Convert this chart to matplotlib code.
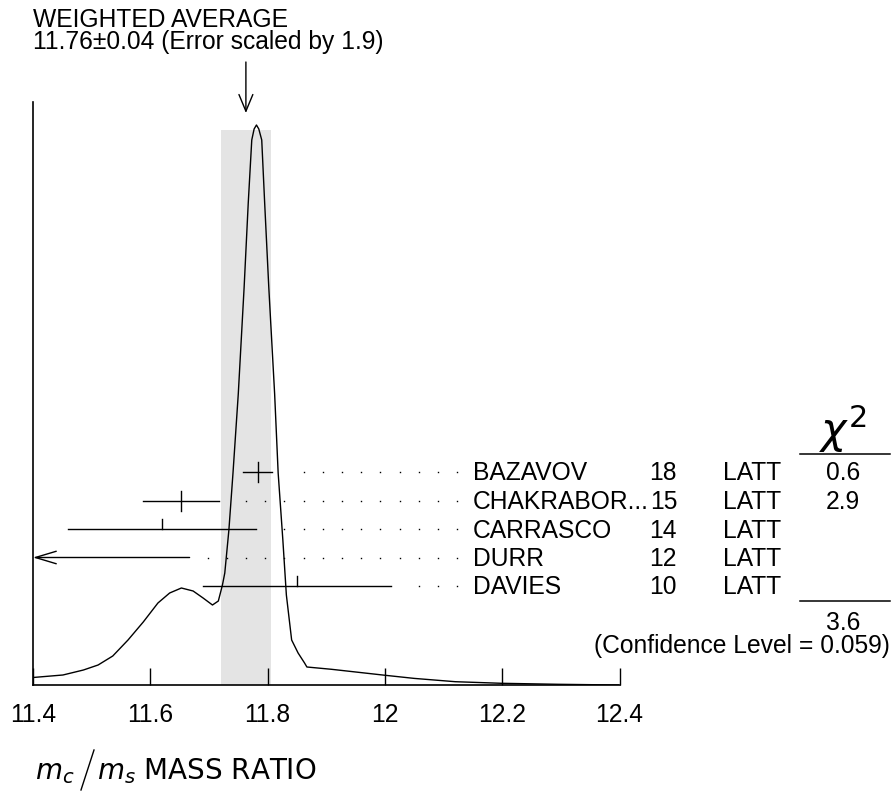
import numpy as np
import matplotlib.pyplot as plt
from matplotlib.lines import Line2D

plt.rcParams['font.family'] = ['Liberation Sans', 'DejaVu Sans']

W, H = 891, 792

# measurements
names = ['BAZAVOV', 'CHAKRABOR...', 'CARRASCO', 'DURR', 'DAVIES']
years = ['18', '15', '14', '12', '10']
techs = ['LATT', 'LATT', 'LATT', 'LATT', 'LATT']
values = [11.783, 11.652, 11.62, 11.27, 11.85]
errors = [0.025, 0.065, 0.16, 0.397, 0.16]
chi2 = ['0.6', '2.9', '', '', '']
full_cross = [True, True, False, False, False]

avg_value = 11.763
avg_error = 0.043
avg_text = ['WEIGHTED AVERAGE', '11.76\u00b10.04 (Error scaled by 1.9)']
chi2_total = '3.6'
conf_level = '(Confidence Level = 0.059)'

# ideogram curve (height in axis units)
curve_x = [11.400, 11.451, 11.486, 11.511, 11.536, 11.562, 11.588, 11.613,
           11.633, 11.653, 11.673, 11.690, 11.706, 11.716, 11.723, 11.727,
           11.734, 11.741, 11.750, 11.760, 11.767, 11.773, 11.777, 11.781,
           11.785, 11.790, 11.795, 11.802, 11.812, 11.818, 11.826, 11.832,
           11.841, 11.852, 11.863, 11.867, 11.909, 11.999, 12.050, 12.120,
           12.199, 12.296, 12.398]
curve_h = [7.5, 10, 15, 20, 29, 45, 63, 82,
           92, 97, 94, 87, 80, 84, 100, 112,
           155, 212, 291, 398, 482, 545, 556, 560,
           556, 545, 482, 398, 291, 212, 145, 90,
           45, 32, 22, 18, 15.7, 9.8, 6.6, 3.3,
           1.7, 0.7, 0.0]

ticks = [11.4, 11.6, 11.8, 12.0, 12.2, 12.4]
tick_labels = ['11.4', '11.6', '11.8', '12', '12.2', '12.4']

AX0 = 685  # pixel row of the x axis
fig = plt.figure(figsize=(W / 100, H / 100), dpi=100)
ax = fig.add_axes([33 / W, 1 - AX0 / H, 586.5 / W, (AX0 - 102) / H])
ax.set_xlim(11.4, 12.4)
ax.set_ylim(0, AX0 - 102)

FS = 17.7


def ftext(px, py, s, **kw):
    kw.setdefault('fontsize', FS)
    kw.setdefault('va', 'baseline')
    fig.text(px / W, 1 - py / H, s, **kw)


def fline(x0, x1, y0, y1, lw=1.1):
    fig.add_artist(Line2D([x0 / W, x1 / W], [1 - y0 / H, 1 - y1 / H],
                          transform=fig.transFigure, color='black', lw=lw))


# shaded band of the weighted average
ax.fill_between([avg_value - avg_error, avg_value + avg_error], 0, AX0 - 130,
                color='#e4e4e4', lw=0, zorder=0)

ax.plot(curve_x, curve_h, color='black', lw=1.0, zorder=3)

row0 = AX0 - 472
row_step = 28.5
dot_end = 12.123
dot_step = 0.0327
for i in range(len(values)):
    y = row0 - i * row_step
    lo = values[i] - errors[i]
    hi = values[i] + errors[i]
    if lo < 11.4:
        ax.annotate('', xy=(11.4, y), xytext=(hi, y),
                    arrowprops=dict(arrowstyle='->,head_length=1.5,head_width=0.45',
                                    mutation_scale=10, lw=1.0, color='black',
                                    shrinkA=0, shrinkB=0))
    else:
        ax.plot([lo, hi], [y, y], color='black', lw=1.0)
        if full_cross[i]:
            ax.plot([values[i], values[i]], [y - 10, y + 10], color='black', lw=1.0)
        else:
            ax.plot([values[i], values[i]], [y, y + 10], color='black', lw=1.0)
    # dotted leader to the label
    dots = []
    x = dot_end
    while x > hi + 0.0256:
        dots.append(x)
        x -= dot_step
    ax.plot(dots, [y] * len(dots), 's', color='black', markersize=1.0,
            markeredgewidth=0, clip_on=False)

    py = AX0 - y + 8.5
    ftext(472.7, py, names[i])
    ftext(677, py, years[i], ha='right')
    ftext(723, py, techs[i])
    ftext(843, py, chi2[i], ha='center')

# arrow pointing at the average
ax.annotate('', xy=(avg_value, AX0 - 113), xytext=(avg_value, AX0 - 62),
            arrowprops=dict(arrowstyle='->,head_length=1.2,head_width=0.5',
                            mutation_scale=10, lw=1.0, color='black',
                            shrinkA=0, shrinkB=0),
            annotation_clip=False)

ftext(33, 27, avg_text[0])
ftext(33, 49, avg_text[1])

# chi square column
ftext(843, 444, r'$\chi^2$', ha='center', fontsize=31)
fline(800, 890, 454, 454)
fline(800, 890, 601, 601)
ftext(843, 630, chi2_total, ha='center')
ftext(890, 653, conf_level, ha='right')

# axes
ax.spines['top'].set_visible(False)
ax.spines['right'].set_visible(False)
ax.spines['left'].set_linewidth(1.2)
ax.spines['bottom'].set_linewidth(1.2)
ax.set_yticks([])
ax.set_xticks(ticks)
ax.set_xticklabels(tick_labels)
ax.tick_params(axis='x', direction='in', length=12.5, width=1.0, pad=13,
               labelsize=FS)

ftext(35, 779, r'$m_c$', fontsize=20, family='DejaVu Sans')
fline(81, 94, 790, 750, lw=1.0)
ftext(97, 779, r'$m_s$ MASS RATIO', fontsize=20, family='DejaVu Sans')

plt.savefig('out.png', dpi=100)
